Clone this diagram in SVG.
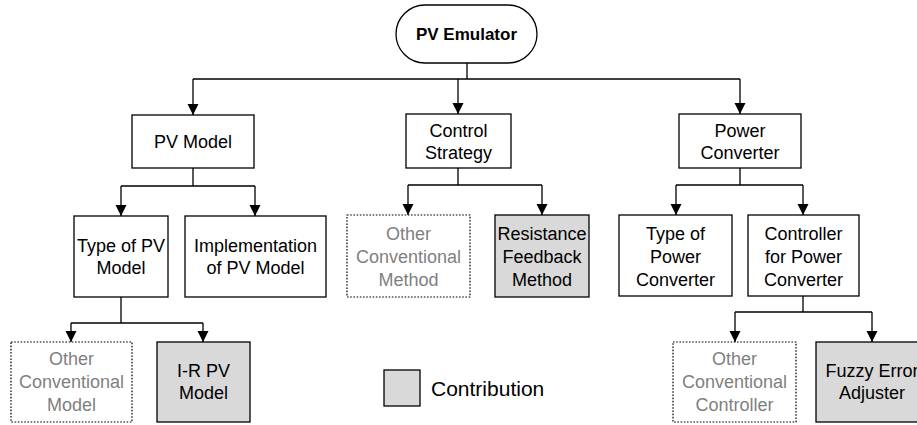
<svg xmlns="http://www.w3.org/2000/svg" width="917" height="425" viewBox="0 0 917 425">
<defs>
<marker id="ah" markerUnits="userSpaceOnUse" markerWidth="12" markerHeight="12" viewBox="0 0 12 12" refX="11" refY="6" orient="auto">
<path d="M0,0.5 L11,6 L0,11.5 Z" fill="#000"/>
</marker>
<style>
.box{fill:#fff;stroke:#000;stroke-width:1.3}
.dot{fill:#fff;stroke:#000;stroke-width:1.2;stroke-dasharray:1.6 1.6}
.hl{fill:#d9d9d9;stroke:#000;stroke-width:1.3}
text{font-family:"Liberation Sans",Arial,sans-serif;font-size:18px;fill:#000;text-anchor:middle}
.g{fill:#7f7f7f}
.b{font-weight:bold;font-size:17px}
.c{stroke:#000;stroke-width:1.3;fill:none}
.a{marker-end:url(#ah)}
</style>
</defs>
<g id="connectors">
<path class="c" d="M467,63 V79 M193,79 H740"/>
<path class="c a" d="M193,79 V115"/>
<path class="c a" d="M458,79 V114"/>
<path class="c a" d="M740,79 V114"/>
<path class="c" d="M193,168 V186 M121,186 H255"/>
<path class="c a" d="M121,186 V216"/>
<path class="c a" d="M255,186 V216"/>
<path class="c" d="M458,168 V185 M408,185 H542"/>
<path class="c a" d="M408,185 V215"/>
<path class="c a" d="M542,185 V215"/>
<path class="c" d="M740,168 V185 M676,185 H803"/>
<path class="c a" d="M676,185 V215"/>
<path class="c a" d="M803,185 V215"/>
<path class="c" d="M121,297 V323 M71,323 H203"/>
<path class="c a" d="M71,323 V342"/>
<path class="c a" d="M203,323 V342"/>
<path class="c" d="M803,296 V312 M735,312 H872"/>
<path class="c a" d="M735,312 V342"/>
<path class="c a" d="M872,312 V342"/>
</g>
<g id="pv-emulator">
<rect class="box" x="396" y="5" width="141" height="58" rx="29"/>
<text class="b" x="466.5" y="40">PV Emulator</text>
</g>
<g id="pv-model">
<rect class="box" x="132" y="115" width="122" height="53"/>
<text x="193" y="148">PV Model</text>
</g>
<g id="control-strategy">
<rect class="box" x="406" y="114" width="105" height="54"/>
<text x="458.5" y="137">Control</text>
<text x="458.5" y="159">Strategy</text>
</g>
<g id="power-converter">
<rect class="box" x="679" y="114" width="122" height="54"/>
<text x="740" y="137">Power</text>
<text x="740" y="159">Converter</text>
</g>
<g id="type-pv-model">
<rect class="box" x="74" y="216" width="94" height="81"/>
<text x="121" y="252">Type of PV</text>
<text x="121" y="274">Model</text>
</g>
<g id="impl-pv-model">
<rect class="box" x="185" y="216" width="141" height="81"/>
<text x="255.5" y="252">Implementation</text>
<text x="255.5" y="274">of PV Model</text>
</g>
<g id="other-method">
<rect class="dot" x="347" y="215" width="123" height="82"/>
<text class="g" x="408.5" y="240">Other</text>
<text class="g" x="408.5" y="263">Conventional</text>
<text class="g" x="408.5" y="286">Method</text>
</g>
<g id="resistance-feedback">
<rect class="hl" x="495" y="215" width="94" height="82"/>
<text x="542" y="240">Resistance</text>
<text x="542" y="263">Feedback</text>
<text x="542" y="286">Method</text>
</g>
<g id="type-power-converter">
<rect class="box" x="619" y="215" width="113" height="81"/>
<text x="675.5" y="240">Type of</text>
<text x="675.5" y="263">Power</text>
<text x="675.5" y="286">Converter</text>
</g>
<g id="controller-power-converter">
<rect class="box" x="748" y="215" width="111" height="81"/>
<text x="803.5" y="240">Controller</text>
<text x="803.5" y="263">for Power</text>
<text x="803.5" y="286">Converter</text>
</g>
<g id="other-model">
<rect class="dot" x="11" y="342" width="121" height="80"/>
<text class="g" x="71.5" y="365">Other</text>
<text class="g" x="71.5" y="388">Conventional</text>
<text class="g" x="71.5" y="411">Model</text>
</g>
<g id="ir-pv-model">
<rect class="hl" x="157" y="342" width="93" height="80"/>
<text x="203.5" y="377">I-R PV</text>
<text x="203.5" y="399">Model</text>
</g>
<g id="other-controller">
<rect class="dot" x="673" y="342" width="123" height="80"/>
<text class="g" x="734.5" y="365">Other</text>
<text class="g" x="734.5" y="388">Conventional</text>
<text class="g" x="734.5" y="411">Controller</text>
</g>
<g id="fuzzy-error-adjuster">
<rect class="hl" x="816" y="342" width="112" height="80"/>
<text x="872" y="377">Fuzzy Error</text>
<text x="872" y="399">Adjuster</text>
</g>
<g id="legend">
<rect class="hl" x="384" y="370" width="36" height="36"/>
<text x="431" y="396" style="text-anchor:start;font-size:21px">Contribution</text>
</g>
</svg>
